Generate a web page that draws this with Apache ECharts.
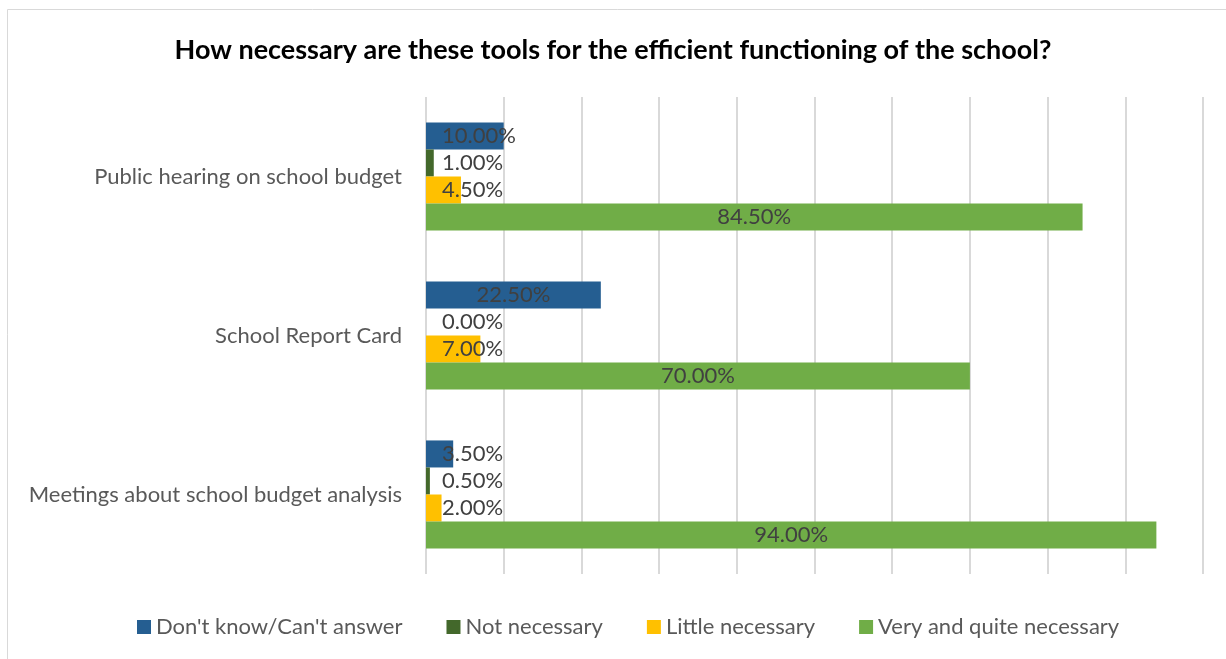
<!DOCTYPE html>
<html>
<head>
<meta charset="utf-8">
<script src="https://cdn.jsdelivr.net/npm/echarts@6/dist/echarts.min.js"></script>
<style>
  html, body { margin: 0; padding: 0; background: #fff; }
  #chart { width: 1226px; height: 659px; }
</style>
</head>
<body>
<div id="chart"></div>
<script>
// categories top to bottom
const categories = ['Public hearing on school budget', 'School Report Card', 'Meetings about school budget analysis'];
const seriesNames = ["Don't know/Can't answer", 'Not necessary', 'Little necessary', 'Very and quite necessary'];
// values in percent, one per category
const dontKnow = [10.0, 22.5, 3.5];
const notNecessary = [1.0, 0.0, 0.5];
const littleNecessary = [4.5, 7.0, 2.0];
const veryNecessary = [84.5, 70.0, 94.0];
const xTicks = [0, 10, 20, 30, 40, 50, 60, 70, 80, 90, 100];

const colors = ['#255e91', '#43682b', '#ffc000', '#70ad47'];
const font = 'Lato, "Open Sans", sans-serif';

// Excel keeps short labels from running left of the axis
function toData(values) {
  return values.map(v => {
    if (v < 13) {
      return { value: v, label: { position: 'insideLeft', distance: 16 } };
    }
    return { value: v };
  });
}

const allValues = [dontKnow, notNecessary, littleNecessary, veryNecessary];

let myChart = echarts.init(document.getElementById('chart'));
let option = {
  animation: false,
  title: {
    text: 'How necessary are these tools for the efficient functioning of the school?',
    left: 'center',
    top: 32,
    textStyle: { fontFamily: font, fontSize: 27, fontWeight: 'bold', color: '#000' }
  },
  graphic: [{
    type: 'rect',
    shape: { x: 7.5, y: 9.5, width: 1300, height: 700 },
    style: { fill: 'none', stroke: '#d9d9d9', lineWidth: 1 },
    z: -10
  }],
  legend: {
    data: seriesNames,
    top: 611,
    left: 132,
    icon: 'rect',
    itemWidth: 14,
    itemHeight: 14,
    itemGap: 44,
    textStyle: { fontFamily: font, fontSize: 22, color: '#595959' }
  },
  grid: { left: 426, right: 23, top: 97, bottom: 85, containLabel: false },
  xAxis: {
    type: 'value',
    min: xTicks[0],
    max: xTicks[xTicks.length - 1],
    interval: 10,
    axisLabel: { show: false },
    axisLine: { show: false },
    axisTick: { show: false },
    splitLine: { show: true, lineStyle: { color: '#d9d9d9', width: 2 } }
  },
  yAxis: {
    type: 'category',
    inverse: true,
    data: categories,
    axisLine: { show: false },
    axisTick: { show: false },
    axisLabel: { margin: 24, fontFamily: font, fontSize: 22, color: '#595959' }
  },
  series: seriesNames.map((name, i) => ({
    name: name,
    type: 'bar',
    data: toData(allValues[i]),
    barGap: '0%',
    barCategoryGap: '32%',
    itemStyle: { color: colors[i] },
    label: {
      show: true,
      position: 'inside',
      fontFamily: font,
      fontSize: 22,
      color: '#404040',
      formatter: p => p.value.toFixed(2) + '%'
    }
  }))
};
myChart.setOption(option);
window.addEventListener('resize', function() { myChart.resize() });
</script>
</body>
</html>
